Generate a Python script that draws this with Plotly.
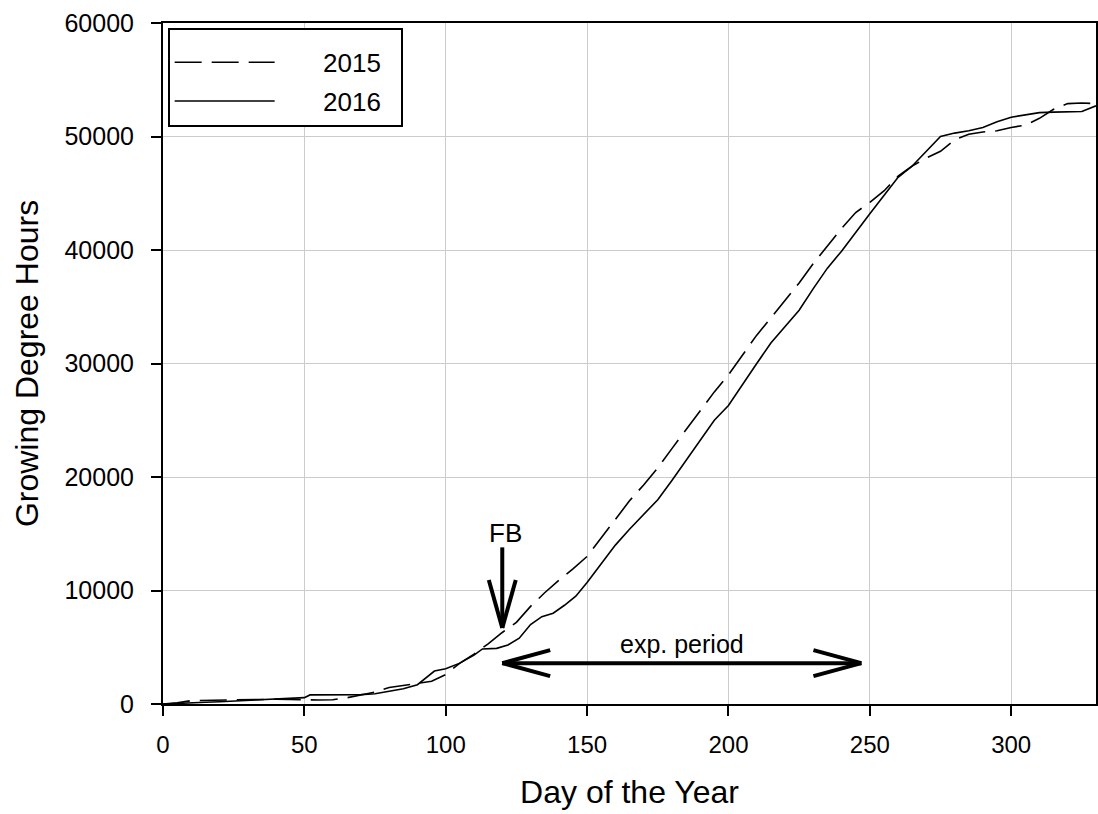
import plotly.graph_objects as go

# ---------------- data ----------------
days_2015 = [0, 5, 10, 15, 20, 25, 30, 35, 40, 45, 50, 55, 60, 65, 70, 75, 80, 85, 90, 95,
             100, 105, 110, 115, 120, 125, 130, 135, 140, 145, 150, 155, 160, 165, 170, 175,
             180, 185, 190, 195, 200, 205, 210, 215, 220, 225, 230, 235, 240, 245, 250, 255,
             260, 265, 270, 275, 280, 285, 290, 295, 300, 305, 310, 315, 320, 325, 330]
gdh_2015 = [0, 100, 300, 330, 350, 370, 380, 400, 420, 400, 360, 350, 380, 550, 800, 1050,
            1450, 1650, 1850, 2000, 2600, 3600, 4400, 5300, 6300, 7200, 8600, 9800, 10900,
            11900, 13000, 14600, 16300, 17900, 19300, 20800, 22500, 24200, 25800, 27500,
            29000, 30700, 32500, 34000, 35500, 37100, 38800, 40400, 41900, 43300, 44200,
            45200, 46500, 47400, 48100, 48700, 49700, 50200, 50400, 50500, 50800, 51000,
            51600, 52400, 52900, 52950, 52900]

days_2016 = [0, 5, 10, 15, 20, 25, 30, 35, 40, 45, 50, 52, 55, 60, 65, 70, 75, 80, 85, 90,
             93, 96, 100, 105, 110, 113, 118, 122, 126, 130, 134, 138, 142, 146, 150, 155,
             160, 165, 170, 175, 180, 185, 190, 195, 200, 205, 210, 215, 220, 225, 230, 235,
             240, 245, 250, 255, 260, 265, 270, 275, 280, 285, 290, 295, 300, 305, 310, 315,
             320, 325, 330]
gdh_2016 = [0, 30, 80, 150, 200, 250, 300, 350, 450, 500, 560, 800, 800, 800, 810, 830, 900,
            1150, 1350, 1700, 2300, 2900, 3100, 3600, 4300, 4850, 4900, 5200, 5800, 7000,
            7700, 8000, 8700, 9500, 10700, 12300, 14000, 15400, 16700, 18000, 19700, 21500,
            23300, 25000, 26300, 28200, 30000, 31800, 33300, 34700, 36600, 38400, 39900,
            41600, 43200, 44800, 46400, 47400, 48700, 50000, 50300, 50500, 50800, 51300,
            51700, 51900, 52100, 52150, 52150, 52200, 52700]

x_ticks = [0, 50, 100, 150, 200, 250, 300]
y_ticks = [0, 10000, 20000, 30000, 40000, 50000, 60000]
y_tick_labels = ["0", "10000", "20000", "30000", "40000", "50000", "60000"]
x_range = [0, 330]
y_range = [0, 60000]

# annotation anchors (data units)
fb_day, fb_tip, fb_top, fb_label_y = 120, 6700, 13800, 15100
exp_start, exp_end, exp_y, exp_label_y = 120, 247, 3600, 5300

# ---------------- figure ----------------
W, H = 1098, 814
ML, MR, MT, MB = 163, 0, 23, 110
plot_w = W - ML - MR
plot_h = H - MT - MB
dpx = (x_range[1] - x_range[0]) / plot_w   # days per pixel
vpx = (y_range[1] - y_range[0]) / plot_h   # units per pixel

FONT = "Liberation Sans, Arial, sans-serif"
NB = "\u00a0"

fig = go.Figure()
fig.add_trace(go.Scatter(x=days_2015, y=gdh_2015, mode="lines",
                         name=NB * 6 + "2015" + NB * 2, legendgroup="a",
                         line=dict(color="black", width=1.6, dash="27px,10px")))
fig.add_trace(go.Scatter(x=days_2016, y=gdh_2016, mode="lines",
                         name=NB * 6 + "2016" + NB * 2, legendgroup="b",
                         line=dict(color="black", width=1.6)))

shapes = []
AW = 4
def seg(x0, y0, x1, y1, w=AW):
    shapes.append(dict(type="line", xref="x", yref="y", x0=x0, y0=y0, x1=x1, y1=y1,
                       line=dict(color="black", width=w)))

# FB vertical arrow
seg(fb_day, fb_top, fb_day, fb_tip)
head_len, head_half = 48, 13.5
seg(fb_day - head_half * dpx, fb_tip + head_len * vpx, fb_day, fb_tip)
seg(fb_day + head_half * dpx, fb_tip + head_len * vpx, fb_day, fb_tip)

# exp. period double arrow
seg(exp_start, exp_y, exp_end, exp_y)
for tip, sgn in ((exp_start, 1), (exp_end, -1)):
    seg(tip + sgn * head_len * dpx, exp_y + 13 * vpx, tip, exp_y)
    seg(tip + sgn * head_len * dpx, exp_y - 13 * vpx, tip, exp_y)

annotations = [
    dict(x=fb_day + 1, y=fb_label_y, xref="x", yref="y", text="FB", showarrow=False,
         font=dict(family=FONT, size=26, color="black")),
    dict(x=(exp_start + exp_end) / 2, y=exp_label_y, xref="x", yref="y", text="exp. period",
         showarrow=False, font=dict(family=FONT, size=25, color="black")),
]

fig.update_layout(
    width=W, height=H,
    margin=dict(l=ML, r=MR, t=MT, b=MB),
    paper_bgcolor="white", plot_bgcolor="white",
    font=dict(family=FONT, color="black"),
    shapes=shapes, annotations=annotations,
    showlegend=True,
    legend=dict(x=0.005, y=0.993, xanchor="left", yanchor="top",
                bordercolor="black", borderwidth=2, bgcolor="white",
                font=dict(family=FONT, size=26, color="black"),
                title=dict(text=NB, font=dict(size=7)),
                itemwidth=100, tracegroupgap=2, itemclick=False),
    xaxis=dict(range=x_range, tickvals=x_ticks, ticks="outside", ticklen=10,
               tickwidth=1.5, tickcolor="black", showline=True, linecolor="black",
               linewidth=2, mirror=True, showgrid=True, gridcolor="#cccccc",
               gridwidth=1, zeroline=False, ticklabelstandoff=8,
               tickfont=dict(family=FONT, size=24),
               title=dict(text="Day of the Year", font=dict(family=FONT, size=32),
                          standoff=24)),
    yaxis=dict(range=y_range, tickvals=y_ticks, ticktext=y_tick_labels,
               ticks="outside", ticklen=10,
               tickwidth=1.5, tickcolor="black", showline=True, linecolor="black",
               linewidth=2, mirror=True, showgrid=True, gridcolor="#cccccc",
               gridwidth=1, zeroline=False, ticklabelstandoff=12,
               tickfont=dict(family=FONT, size=25),
               title=dict(text="Growing Degree Hours", font=dict(family=FONT, size=32),
                          standoff=16)),
)

fig.write_html("out.html")
